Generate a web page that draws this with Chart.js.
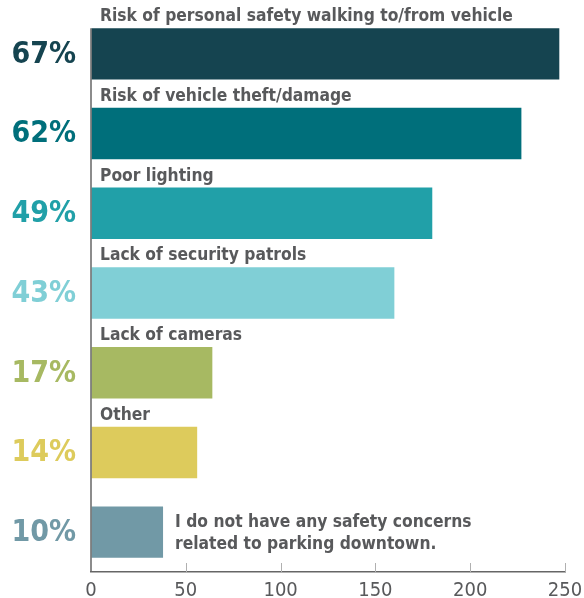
<!DOCTYPE html>
<html>
<head>
<meta charset="utf-8">
<script src="https://cdn.jsdelivr.net/npm/chart.js@4.4.0/dist/chart.umd.min.js"></script>
<style>
  html, body { margin: 0; padding: 0; background: #fff; }
  #box { width: 584px; height: 598px; position: relative; }
</style>
</head>
<body>
<div id="box"><canvas id="grafico"></canvas></div>
<script>
// dati
const categorie = [
  "Risk of personal safety walking to/from vehicle",
  "Risk of vehicle theft/damage",
  "Poor lighting",
  "Lack of security patrols",
  "Lack of cameras",
  "Other",
  ["I do not have any safety concerns", "related to parking downtown."]
];
const risposte = [247, 227, 180, 160, 64, 56, 38];
const percentuali = ["67%", "62%", "49%", "43%", "17%", "14%", "10%"];
const colori = ["#154450", "#006f7b", "#21a0a8", "#80cfd6", "#a7b962", "#ddcb5c", "#7199a6"];
const tickX = [0, 50, 100, 150, 200, 250];

const grigio = "#58595b";
const fontTesto = "'DejaVu Sans Condensed', 'DejaVu Sans', sans-serif";

// etichette sopra le barre, percentuali, linea asse y e tacche asse x
const etichettePlugin = {
  id: "etichette",
  afterDatasetsDraw(chart) {
    const ctx = chart.ctx;
    const meta = chart.getDatasetMeta(0);
    const area = chart.chartArea;
    const xScale = chart.scales.x;
    ctx.save();

    // linea verticale dell'asse y, parte dalla prima barra
    const primo = meta.data[0];
    ctx.strokeStyle = "#666";
    ctx.lineWidth = 1.5;
    ctx.beginPath();
    ctx.moveTo(area.left, primo.y - primo.height / 2);
    ctx.lineTo(area.left, area.bottom);
    ctx.stroke();

    // tacche corte verso l'alto
    ctx.strokeStyle = "#b0b0b0";
    ctx.lineWidth = 1;
    tickX.forEach((v) => {
      if (v === 0) return;
      const px = Math.round(xScale.getPixelForValue(v)) + 0.5;
      ctx.beginPath();
      ctx.moveTo(px, area.bottom);
      ctx.lineTo(px, area.bottom - 9);
      ctx.stroke();
    });

    meta.data.forEach((bar, i) => {
      // percentuale a sinistra, stesso colore della barra
      ctx.fillStyle = colori[i];
      ctx.font = "bold 30px " + fontTesto;
      ctx.textAlign = "right";
      ctx.textBaseline = "middle";
      ctx.fillText(percentuali[i], area.left - 15, bar.y + 1);

      ctx.fillStyle = grigio;
      ctx.font = "bold 17.3px " + fontTesto;
      const lab = categorie[i];
      if (Array.isArray(lab)) {
        // ultima voce: testo a destra della barra
        ctx.textAlign = "left";
        ctx.textBaseline = "middle";
        ctx.fillText(lab[0], bar.x + 12, bar.y - 10);
        ctx.fillText(lab[1], bar.x + 12, bar.y + 12);
      } else {
        ctx.textAlign = "left";
        ctx.textBaseline = "alphabetic";
        ctx.fillText(lab, area.left + 9, bar.y - bar.height / 2 - 7);
      }
    });
    ctx.restore();
  }
};

const ctx = document.getElementById("grafico").getContext("2d");
new Chart(ctx, {
  type: "bar",
  data: {
    labels: categorie,
    datasets: [
      {
        data: risposte,
        backgroundColor: colori,
        barPercentage: 0.645,
        categoryPercentage: 1
      }
    ]
  },
  options: {
    indexAxis: "y",
    responsive: true,
    maintainAspectRatio: false,
    animation: false,
    layout: { padding: { top: 14, right: 19, left: 91, bottom: 0 } },
    plugins: {
      legend: { display: false },
      tooltip: { enabled: false }
    },
    scales: {
      x: {
        min: 0,
        max: 250,
        afterBuildTicks: (scale) => { scale.ticks = tickX.map((v) => ({ value: v })); },
        afterFit: (scale) => {
          scale.height = 26;
          scale.paddingLeft = 0;
          scale.paddingRight = 0;
        },
        grid: { drawOnChartArea: false, drawTicks: false },
        border: { color: "#666", width: 1.5 },
        ticks: {
          padding: 7,
          color: grigio,
          font: { family: fontTesto, size: 20 }
        }
      },
      y: {
        display: false
      }
    }
  },
  plugins: [etichettePlugin]
});
</script>
</body>
</html>
